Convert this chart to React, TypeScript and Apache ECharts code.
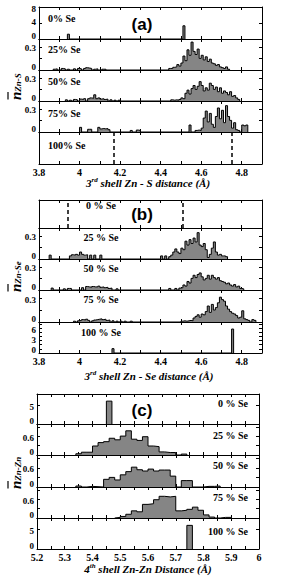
import React, { useEffect, useRef } from 'react';
import * as echarts from 'echarts';

type Bin = [number, number];

const SERIF = '"Liberation Serif", "DejaVu Serif", serif';
const SANS = '"Liberation Sans", "DejaVu Sans", sans-serif';

// ---------- Panel (a): 3rd shell Zn - S ----------
const A_LABELS = ['0% Se', '25% Se', '50% Se', '75% Se', '100% Se'];
const A_X_LABELS = [3.8, 4, 4.2, 4.4, 4.6, 4.8];
const A_BIN = 0.01;
const A0: Bin[] = [[3.94, 1.2], [4.51, 3.3]];
const A25: Bin[] = [
  [3.87, 0.01], [3.88, 0.015], [3.91, 0.02], [3.92, 0.015], [3.94, 0.01], [3.97, 0.015], [3.99, 0.02],
  [4.0, 0.015], [4.02, 0.02], [4.03, 0.03], [4.04, 0.025], [4.05, 0.02], [4.07, 0.01], [4.08, 0.015],
  [4.11, 0.01], [4.12, 0.01],
  [4.44, 0.02], [4.45, 0.02], [4.46, 0.035], [4.47, 0.04], [4.48, 0.07], [4.49, 0.05], [4.5, 0.09],
  [4.51, 0.18], [4.52, 0.12], [4.53, 0.26], [4.54, 0.19], [4.55, 0.36], [4.56, 0.24], [4.57, 0.2],
  [4.58, 0.27], [4.59, 0.15], [4.6, 0.19], [4.61, 0.13], [4.62, 0.17], [4.63, 0.11], [4.64, 0.14],
  [4.65, 0.09], [4.66, 0.08], [4.67, 0.06], [4.68, 0.07], [4.69, 0.04], [4.7, 0.03], [4.71, 0.02],
  [4.72, 0.04], [4.73, 0.01],
];
const A50: Bin[] = [
  [3.93, 0.015], [3.95, 0.01], [3.97, 0.02], [3.98, 0.015], [4.0, 0.025], [4.01, 0.02], [4.02, 0.03],
  [4.04, 0.03], [4.05, 0.04], [4.06, 0.035], [4.07, 0.08], [4.08, 0.03], [4.09, 0.04], [4.1, 0.025],
  [4.11, 0.03], [4.12, 0.02], [4.13, 0.025], [4.15, 0.015], [4.17, 0.01], [4.19, 0.01],
  [4.45, 0.015], [4.46, 0.01], [4.47, 0.015], [4.48, 0.01], [4.49, 0.02], [4.5, 0.04], [4.51, 0.03],
  [4.52, 0.1], [4.53, 0.14], [4.54, 0.09], [4.55, 0.16], [4.56, 0.2], [4.57, 0.15], [4.58, 0.19],
  [4.59, 0.25], [4.6, 0.2], [4.61, 0.13], [4.62, 0.17], [4.63, 0.14], [4.64, 0.23], [4.65, 0.2],
  [4.66, 0.15], [4.67, 0.18], [4.68, 0.12], [4.69, 0.17], [4.7, 0.1], [4.71, 0.13], [4.72, 0.11],
  [4.73, 0.08], [4.74, 0.12], [4.75, 0.06], [4.76, 0.07], [4.77, 0.04], [4.78, 0.02],
];
const A75: Bin[] = [
  [4.0, 0.06], [4.04, 0.035], [4.05, 0.035], [4.09, 0.06], [4.1, 0.04], [4.11, 0.045], [4.12, 0.04],
  [4.13, 0.045], [4.14, 0.03], [4.25, 0.02], [4.28, 0.025], [4.29, 0.02],
  [4.54, 0.09], [4.57, 0.02], [4.58, 0.025], [4.59, 0.02], [4.6, 0.05], [4.61, 0.18], [4.62, 0.27],
  [4.63, 0.13], [4.64, 0.24], [4.65, 0.1], [4.66, 0.06], [4.67, 0.2], [4.68, 0.31], [4.69, 0.17],
  [4.7, 0.28], [4.71, 0.12], [4.72, 0.34], [4.73, 0.2], [4.74, 0.15], [4.75, 0.05], [4.76, 0.12],
  [4.77, 0.03], [4.78, 0.02], [4.8, 0.09], [4.81, 0.08], [4.82, 0.09],
];
const A100_DASHED = [4.165, 4.755];

// ---------- Panel (b): 3rd shell Zn - Se ----------
const B_LABELS = ['0 % Se', '25 % Se', '50 % Se', '75 % Se', '100 % Se'];
const B_X_LABELS = [3.8, 4, 4.2, 4.4, 4.6, 4.8];
const B_BIN = 0.01;
const B0_DASHED = [3.945, 4.515];
const B25: Bin[] = [
  [3.85, 0.05], [3.95, 0.04], [3.96, 0.055], [3.97, 0.05], [3.98, 0.06], [3.99, 0.05], [4.0, 0.09],
  [4.01, 0.06], [4.02, 0.05], [4.03, 0.055], [4.05, 0.05], [4.07, 0.05], [4.1, 0.05],
  [4.4, 0.04], [4.42, 0.04], [4.44, 0.03], [4.45, 0.05], [4.46, 0.09], [4.47, 0.13], [4.48, 0.09],
  [4.49, 0.07], [4.5, 0.14], [4.51, 0.12], [4.52, 0.23], [4.53, 0.18], [4.54, 0.25], [4.55, 0.2],
  [4.56, 0.27], [4.57, 0.22], [4.58, 0.34], [4.59, 0.18], [4.6, 0.16], [4.61, 0.2], [4.62, 0.12],
  [4.63, 0.02], [4.64, 0.06], [4.65, 0.14], [4.66, 0.22], [4.67, 0.09], [4.68, 0.05], [4.69, 0.06],
  [4.7, 0.04], [4.71, 0.04], [4.72, 0.03],
];
const B50: Bin[] = [
  [3.86, 0.025], [3.92, 0.015], [3.94, 0.02], [3.95, 0.02], [4.01, 0.03], [4.03, 0.045], [4.04, 0.04],
  [4.05, 0.035], [4.06, 0.045], [4.07, 0.04], [4.08, 0.04], [4.09, 0.05], [4.1, 0.035], [4.11, 0.04],
  [4.12, 0.03], [4.13, 0.035], [4.14, 0.02], [4.15, 0.025], [4.18, 0.015],
  [4.44, 0.02], [4.47, 0.02], [4.49, 0.025], [4.5, 0.03], [4.51, 0.065], [4.52, 0.05], [4.53, 0.11],
  [4.54, 0.09], [4.55, 0.15], [4.56, 0.19], [4.57, 0.16], [4.58, 0.2], [4.59, 0.22], [4.6, 0.17],
  [4.61, 0.13], [4.62, 0.15], [4.63, 0.19], [4.64, 0.14], [4.65, 0.19], [4.66, 0.16], [4.67, 0.14],
  [4.68, 0.16], [4.69, 0.12], [4.7, 0.11], [4.71, 0.1], [4.72, 0.08], [4.73, 0.09], [4.74, 0.065],
  [4.75, 0.05], [4.76, 0.07], [4.77, 0.04], [4.78, 0.05], [4.79, 0.02], [4.8, 0.015],
];
const B75: Bin[] = [
  [3.97, 0.01], [3.99, 0.015], [4.0, 0.02], [4.01, 0.03], [4.02, 0.025], [4.03, 0.035], [4.04, 0.02],
  [4.06, 0.015], [4.07, 0.025], [4.08, 0.03], [4.09, 0.035], [4.1, 0.04], [4.11, 0.03], [4.12, 0.035],
  [4.13, 0.02], [4.14, 0.025], [4.16, 0.015], [4.18, 0.01], [4.2, 0.01], [4.22, 0.01], [4.25, 0.01],
  [4.5, 0.01], [4.51, 0.015], [4.52, 0.01], [4.53, 0.015], [4.54, 0.02], [4.55, 0.015], [4.56, 0.05],
  [4.57, 0.07], [4.58, 0.09], [4.59, 0.06], [4.6, 0.1], [4.61, 0.09], [4.62, 0.13], [4.63, 0.2],
  [4.64, 0.12], [4.65, 0.22], [4.66, 0.15], [4.67, 0.18], [4.68, 0.24], [4.69, 0.31], [4.7, 0.28],
  [4.71, 0.26], [4.72, 0.2], [4.73, 0.16], [4.74, 0.13], [4.75, 0.11], [4.76, 0.1], [4.77, 0.08],
  [4.78, 0.05], [4.79, 0.06], [4.8, 0.14], [4.81, 0.04], [4.82, 0.03], [4.83, 0.02], [4.85, 0.03],
  [4.86, 0.02],
];
const B100: Bin[] = [[4.16, 1.05], [4.75, 5.8]];

// ---------- Panel (c): 4th shell Zn - Zn ----------
const C_LABELS = ['0 % Se', '25 % Se', '50 % Se', '75 % Se', '100 % Se'];
const C_X_LABELS = [5.2, 5.3, 5.4, 5.5, 5.6, 5.7, 5.8, 5.9, 6];
const C_BIN = 0.02;
const C0: Bin[] = [[5.45, 6.1]];
const C25: Bin[] = [
  [5.34, 0.04], [5.36, 0.09], [5.38, 0.09], [5.4, 0.29], [5.42, 0.4], [5.44, 0.43], [5.46, 0.54],
  [5.48, 0.49], [5.5, 0.61], [5.52, 0.78], [5.54, 0.51], [5.56, 0.47], [5.58, 0.59], [5.6, 0.29],
  [5.62, 0.27], [5.64, 0.1], [5.66, 0.08], [5.68, 0.08], [5.72, 0.03],
];
const C50: Bin[] = [
  [5.34, 0.03], [5.38, 0.02], [5.44, 0.24], [5.46, 0.3], [5.48, 0.22], [5.5, 0.38], [5.52, 0.48],
  [5.54, 0.62], [5.56, 0.54], [5.58, 0.5], [5.6, 0.56], [5.62, 0.5], [5.64, 0.53], [5.66, 0.53],
  [5.68, 0.34], [5.72, 0.2], [5.74, 0.2], [5.8, 0.02], [5.82, 0.02], [5.84, 0.03],
];
const C75: Bin[] = [
  [5.48, 0.02], [5.5, 0.05], [5.52, 0.12], [5.54, 0.23], [5.56, 0.2], [5.58, 0.44], [5.6, 0.46],
  [5.62, 0.59], [5.64, 0.7], [5.66, 0.68], [5.68, 0.7], [5.7, 0.23], [5.72, 0.25], [5.74, 0.28],
  [5.76, 0.35], [5.78, 0.25], [5.8, 0.1], [5.82, 0.03], [5.86, 0.02], [5.88, 0.02],
];
const C100: Bin[] = [[5.74, 6.1]];

// y-axis ranges and labelled ticks per sub-plot
const A_Y_MAX = [8, 0.4, 0.4, 0.4, 1];
const A_Y_STEP = [4, 0.15, 0.15, 0.15, 1];
const A_Y_LABELS = [[0, 4, 8], [0, 0.3], [0, 0.3], [0, 0.3], []];
const B_Y_MAX = [1, 0.4, 0.4, 0.4, 7.5];
const B_Y_STEP = [1, 0.15, 0.15, 0.15, 1];
const B_Y_LABELS = [[], [0, 0.3], [0, 0.3], [0, 0.3], [0, 3, 6]];
const C_Y_MAX = [8, 1, 1, 1, 8];
const C_Y_STEP = [5, 0.3, 0.3, 0.3, 5];
const C_Y_LABELS = [[0, 5], [0, 0.6], [0, 0.6], [0, 0.6], [0, 5]];

function stepData(bins: Bin[], w: number): [number, number][] {
  const sorted = [...bins].sort((p, q) => p[0] - q[0]);
  const out: [number, number][] = [];
  let prevEnd: number | null = null;
  for (const [x, v] of sorted) {
    const joined = prevEnd !== null && Math.abs(x - prevEnd) < 1e-7;
    if (!joined) {
      if (prevEnd !== null) out.push([prevEnd, 0]);
      out.push([x, 0]);
    }
    out.push([x, v]);
    prevEnd = x + w;
  }
  if (prevEnd !== null) out.push([prevEnd, 0]);
  return out;
}

interface Sub {
  left: number; top: number; width: number; height: number;
  xMin: number; xMax: number; xStep: number; xLabels: number[] | null;
  yMax: number; yStep: number; yLabels: number[]; yTicks: boolean;
  bins: Bin[]; binW: number; dashed: number[];
}

const findLabel = (list: number[], v: number) => list.find((L) => Math.abs(L - v) < 1e-6);
const pickLabel = (list: number[]) => (v: number) => {
  const m = findLabel(list, v);
  return m === undefined ? '' : String(m);
};
// zero labels nudged up, top labels nudged down, middle labels nudged up slightly
const pickYLabel = (list: number[]) => (v: number) => {
  const m = findLabel(list, v);
  if (m === undefined) return '';
  if (m === 0) return '{z|0}';
  if (m === list[list.length - 1]) return `{t|${m}}`;
  return `{m|${m}}`;
};

function buildOption() {
  const subs: Sub[] = [];
  const aTops = [7, 39, 70, 101, 132];
  const aH = [32, 31, 31, 31, 32];
  const aBins = [A0, A25, A50, A75, []];
  aTops.forEach((t, i) =>
    subs.push({
      left: 39, top: t, width: 223, height: aH[i], xMin: 3.8, xMax: 4.9, xStep: 0.1,
      xLabels: i === 4 ? A_X_LABELS : null, yMax: A_Y_MAX[i], yStep: A_Y_STEP[i],
      yLabels: A_Y_LABELS[i], yTicks: i !== 4, bins: aBins[i], binW: A_BIN,
      dashed: i === 4 ? A100_DASHED : [],
    })
  );
  const bTops = [200, 228, 259, 290, 322];
  const bH = [28, 31, 31, 32, 31];
  const bBins = [[], B25, B50, B75, B100];
  bTops.forEach((t, i) =>
    subs.push({
      left: 39, top: t, width: 223, height: bH[i], xMin: 3.8, xMax: 4.9, xStep: 0.1,
      xLabels: i === 4 ? B_X_LABELS : null, yMax: B_Y_MAX[i], yStep: B_Y_STEP[i],
      yLabels: B_Y_LABELS[i], yTicks: i !== 0, bins: bBins[i], binW: B_BIN,
      dashed: i === 0 ? B0_DASHED : [],
    })
  );
  const cTops = [394, 424, 455, 487, 518];
  const cH = [30, 31, 32, 31, 31];
  const cBins = [C0, C25, C50, C75, C100];
  cTops.forEach((t, i) =>
    subs.push({
      left: 37, top: t, width: 222, height: cH[i], xMin: 5.2, xMax: 6, xStep: 0.05,
      xLabels: i === 4 ? C_X_LABELS : null, yMax: C_Y_MAX[i], yStep: C_Y_STEP[i],
      yLabels: C_Y_LABELS[i], yTicks: true, bins: cBins[i], binW: C_BIN, dashed: [],
    })
  );

  const n = subs.length;
  const axisLine = { show: true, onZero: false, lineStyle: { color: '#000', width: 1 } };
  const tick = (show: boolean) => ({ show, inside: true, length: 3, lineStyle: { color: '#000', width: 1 } });
  const labelFont = { fontFamily: SERIF, fontWeight: 'bold' as const, fontSize: 10, color: '#000' };
  const yFont = { fontFamily: SERIF, fontWeight: 'bold' as const, fontSize: 9, lineHeight: 9, color: '#000' };

  const grid: any[] = [];
  const xAxis: any[] = [];
  const yAxis: any[] = [];
  const series: any[] = [];

  subs.forEach((s, i) => {
    grid.push({ left: s.left, top: s.top, width: s.width, height: s.height, containLabel: false, outerBoundsMode: 'none' });
    xAxis[i] = {
      type: 'value', gridIndex: i, position: 'bottom', min: s.xMin, max: s.xMax, interval: s.xStep,
      axisLine, axisTick: tick(true), splitLine: { show: false },
      axisLabel: { show: !!s.xLabels, formatter: pickLabel(s.xLabels || []), margin: 3, ...labelFont },
    };
    xAxis[n + i] = {
      type: 'value', gridIndex: i, position: 'top', min: s.xMin, max: s.xMax, interval: s.xStep,
      axisLine, axisTick: tick(true), splitLine: { show: false }, axisLabel: { show: false },
    };
    yAxis[i] = {
      type: 'value', gridIndex: i, position: 'left', min: 0, max: s.yMax, interval: s.yStep,
      axisLine, axisTick: tick(s.yTicks), splitLine: { show: false },
      axisLabel: {
        show: s.yLabels.length > 0, formatter: pickYLabel(s.yLabels), margin: 3, ...yFont,
        rich: {
          z: { ...yFont, padding: [0, 0, 6, 0] },
          t: { ...yFont, padding: [3, 0, 0, 0] },
          m: { ...yFont, padding: [0, 0, 2, 0] },
        },
      },
    };
    yAxis[n + i] = {
      type: 'value', gridIndex: i, position: 'right', min: 0, max: s.yMax, interval: s.yStep,
      axisLine, axisTick: tick(s.yTicks), splitLine: { show: false }, axisLabel: { show: false },
    };
    const ser: any = {
      type: 'line', xAxisIndex: i, yAxisIndex: i, step: 'end', symbol: 'none', silent: true,
      data: stepData(s.bins, s.binW),
      lineStyle: { color: '#000', width: 1 },
      areaStyle: { color: '#858585', opacity: 1 },
    };
    if (s.dashed.length) {
      ser.markLine = {
        silent: true, symbol: 'none', label: { show: false },
        lineStyle: { color: '#000', width: 1.5, type: [4, 3] },
        data: s.dashed.map((v) => ({ xAxis: v })),
      };
    }
    series.push(ser);
  });

  const subLabel = (text: string, x: number, y: number, align: string) => ({
    type: 'text', x, y, silent: true,
    style: { text, align, verticalAlign: 'middle', fontFamily: SERIF, fontWeight: 'bold', fontSize: 10, fill: '#000' },
  });
  const aY = [18, 49, 81, 113, 145];
  const bY = [205, 237, 268, 299, 332];
  const cY = [403, 435, 465, 497, 531];

  const xTitle = (ord: string, sup: string, rest: string, x: number, y: number) => ({
    type: 'text', x, y, silent: true,
    style: {
      text: `{a|${ord}}{s|${sup}}{a|${rest}}`, align: 'center', verticalAlign: 'middle',
      rich: {
        a: { fontFamily: SERIF, fontWeight: 'bold', fontStyle: 'italic', fontSize: 11, lineHeight: 14, fill: '#000' },
        s: { fontFamily: SERIF, fontWeight: 'bold', fontStyle: 'italic', fontSize: 7, lineHeight: 9, verticalAlign: 'top', fill: '#000' },
      },
    },
  });

  const yTitle = (sub: string, x: number, y: number) => ({
    type: 'group', x, y, rotation: Math.PI / 2, silent: true,
    children: [
      {
        type: 'text', x: 0, y: 0,
        style: {
          text: `{n|n}{s|${sub}}`, align: 'left', verticalAlign: 'middle',
          rich: {
            n: { fontFamily: SERIF, fontWeight: 'bold', fontStyle: 'italic', fontSize: 15, lineHeight: 13, fill: '#000' },
            s: { fontFamily: SERIF, fontWeight: 'bold', fontStyle: 'italic', fontSize: 9, lineHeight: 9, verticalAlign: 'bottom', fill: '#000' },
          },
        },
      },
      { type: 'line', shape: { x1: 0.5, y1: -8, x2: 8, y2: -8 }, style: { stroke: '#000', lineWidth: 1.2 } },
    ],
  });

  const panelLabel = (text: string, x: number, y: number) => ({
    type: 'text', x, y, silent: true,
    style: { text, align: 'center', verticalAlign: 'middle', fontFamily: SANS, fontWeight: 'bold', fontSize: 17, fill: '#000' },
  });

  const graphic: any[] = [
    ...A_LABELS.map((t, i) => subLabel(t, 48, aY[i], 'left')),
    ...B_LABELS.map((t, i) => subLabel(t, 101, bY[i], 'center')),
    ...C_LABELS.map((t, i) => subLabel(t, 248, cY[i], 'right')),
    panelLabel('(a)', 142, 24),
    panelLabel('(b)', 142, 214),
    panelLabel('(c)', 142, 410),
    xTitle('3', 'rd', ' shell Zn - S distance (Å)', 148, 183),
    xTitle('3', 'rd', ' shell Zn - Se distance (Å)', 149, 376),
    xTitle('4', 'th', ' shell Zn-Zn Distance (Å)', 148, 569),
    yTitle('Zn-S', 16, 100),
    yTitle('Zn-Se', 16, 292),
    yTitle('Zn-Zn', 16, 489),
  ];

  return {
    animation: false,
    backgroundColor: '#fff',
    grid, xAxis, yAxis, series, graphic,
  };
}

export default function App() {
  const ref = useRef<HTMLDivElement>(null);
  useEffect(() => {
    if (!ref.current) return;
    const chart = echarts.init(ref.current, undefined, { renderer: 'svg' });
    chart.setOption(buildOption() as any);
    return () => chart.dispose();
  }, []);
  return (
    <div
      ref={ref}
      style={{ position: 'fixed', left: 0, top: 0, width: 285, height: 585, background: '#fff' }}
    />
  );
}
